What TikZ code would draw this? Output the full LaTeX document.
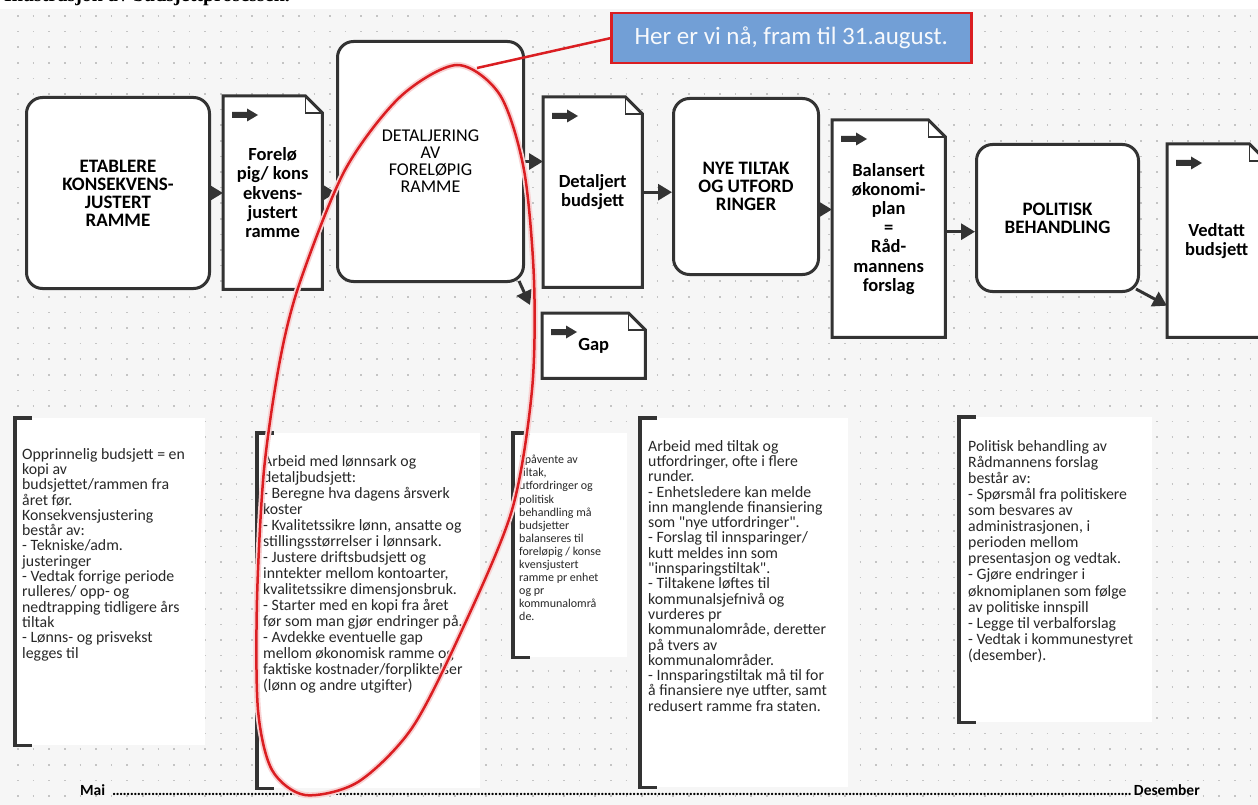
\documentclass[tikz,border=0pt]{standalone}
\usepackage{fontspec}
\setmainfont{Carlito}
\newfontfamily\qfont{Carlito}[Ligatures=TeXOff]
\newfontfamily\titlefont{Liberation Serif}
\usetikzlibrary{arrows.meta,calc}
\pgfdeclarelayer{bg}
\pgfdeclarelayer{shapes}
\pgfsetlayers{bg,shapes,main}
\definecolor{ink}{RGB}{51,51,51}
\definecolor{redl}{RGB}{218,30,34}
\definecolor{callblue}{RGB}{114,159,214}
\definecolor{bgc}{RGB}{246,246,246}
\definecolor{dotc}{RGB}{196,196,196}
\definecolor{txt}{RGB}{40,40,40}
\newcommand\sq{{\qfont"}}
\tikzset{
  procbox/.style={draw=ink, line width=3pt, rounded corners=16pt, fill=white, align=center,
    font=\bfseries\fontsize{19}{18}\selectfont, inner sep=0pt, anchor=north west},
  docbox/.style={align=center, font=\bfseries\fontsize{18.5}{19.2}\selectfont, inner sep=0pt, anchor=north west},
  docline/.style={draw=ink, line width=3pt, fill=white, line join=miter},
  foldline/.style={draw=ink, line width=1.5pt},
  conn/.style={draw=ink, line width=3pt, -{Triangle[length=14pt,width=16pt]}},
  colbox/.style={fill=white, inner sep=0pt, anchor=north west},
  bracket/.style={draw=ink, line width=3.5pt},
  coltext/.style={anchor=north west, inner sep=0pt, align=left, text=txt,
    font=\fontsize{15.8}{15.3}\selectfont},
  redline/.style={draw=redl, line width=2.5pt},
}
\newcommand\docshape[1]{%
  \begin{pgfonlayer}{shapes}
  \draw[docline] (#1.north west) -- ([xshift=-17pt]#1.north east) -- ([yshift=-17pt]#1.north east)
     -- (#1.south east) -- (#1.south west) -- cycle;
  \draw[foldline] ([xshift=-17pt]#1.north east) -- ([xshift=-17pt,yshift=-17pt]#1.north east)
     -- ([yshift=-17pt]#1.north east);
  \fill[ink] ([xshift=9pt,yshift=-16pt]#1.north west) -- ++(15,0) -- ++(0,-3.5) -- ++(11,6.5)
     -- ++(-11,6.5) -- ++(0,-3.5) -- ++(-15,0) -- cycle;
  \end{pgfonlayer}}
\newcommand\colbracket[1]{%
  \draw[bracket] ([xshift=17pt]#1.north west) -- (#1.north west) -- (#1.south west) -- ([xshift=17pt]#1.south west);}
\begin{document}
\begin{tikzpicture}[x=1pt,y=-1pt]
\useasboundingbox (0,0) rectangle (1258,805);
\begin{pgfonlayer}{bg}
  \fill[white] (0,0) rectangle (1258,805);
  \fill[bgc] (0,9) rectangle (1258,805);
  \foreach \r in {0,...,50} {
    \draw[dotc, line width=1.5pt, dash pattern=on 1.5pt off 14.1pt] (17.25,{16+15.6*\r}) -- (1258,{16+15.6*\r});
  }
  \begin{scope}
    \clip (0,0) rectangle (1258,9);
    \node[anchor=base west, inner sep=0pt, font=\titlefont\bfseries\fontsize{20}{24}\selectfont] (title) at (4,2) {Illustrasjon av budsjettprosessen.};
  \end{scope}
\end{pgfonlayer}

% process boxes
\node[procbox, minimum width=183pt, minimum height=191pt] (b1) at (25,96) {ETABLERE\\KONSEKVENS-\\JUSTERT\\RAMME};
\node[procbox, minimum width=186pt, minimum height=240pt, font=\fontsize{18}{17}\selectfont] (b2) at (336,40) {DETALJERING\\AV\\FORELØPIG\\RAMME};
\node[procbox, minimum width=145pt, minimum height=176pt] (b3) at (672,97) {NYE TILTAK\\OG UTFORD\\RINGER};
\node[procbox, minimum width=162pt, minimum height=147pt] (b4) at (975,143) {POLITISK\\BEHANDLING};

% documents
\node[docbox, minimum width=99pt, minimum height=193pt] (d1) at (223,96) {Forelø\\pig/ kons\\ekvens-\\justert\\ramme};
\node[docbox, minimum width=99pt, minimum height=190pt] (d2) at (543,97) {Detaljert\\budsjett};
\node[docbox, minimum width=103pt, minimum height=65pt] (gap) at (542,313) {\raisebox{-7pt}{Gap}};
\node[docbox, minimum width=113pt, minimum height=217pt] (d3) at (832,120) {Balansert\\økonomi-\\plan\\=\\Råd-\\mannens\\forslag};
\node[docbox, minimum width=99pt, minimum height=193pt] (d4) at (1167,144) {Vedtatt\\budsjett};
\docshape{d1}\docshape{d2}\docshape{gap}\docshape{d3}\docshape{d4}

% connectors
\draw[conn] (b1.east) -- (b1.east -| d1.west);
\draw[conn] (d1.east) -- (d1.east -| b2.west);
\draw[conn] (b2.east) -- (b2.east -| d2.west);
\draw[conn] ([xshift=-6pt,yshift=2pt]b2.south east) -- ([xshift=-12pt,yshift=8pt]gap.north west);
\draw[conn] (d2.east) -- (d2.east -| b3.west);
\draw[conn] ([yshift=-23pt]b3.east) -- ([yshift=-23pt]b3.east -| d3.west);
\draw[conn] ([yshift=-3pt]d3.east) -- ([yshift=-3pt]d3.east -| b4.west);
\draw[conn] ([xshift=-4pt,yshift=4pt]b4.south east) -- ([yshift=-65pt]d4.west);

% text columns
\node[colbox, minimum width=190pt, minimum height=327pt] (c1) at (15,418) {};
\node[colbox, minimum width=223pt, minimum height=355pt] (c2) at (257,433) {};
\node[colbox, minimum width=114pt, minimum height=224pt] (c3) at (513,433) {};
\node[colbox, minimum width=208pt, minimum height=369pt] (c4) at (640,418) {};
\node[colbox, minimum width=193pt, minimum height=305pt] (c5) at (959,417) {};
\colbracket{c1}\colbracket{c2}\colbracket{c3}\colbracket{c4}\colbracket{c5}

\node[coltext] (t1) at (22,448) {Opprinnelig budsjett = en\\kopi av\\budsjettet/rammen fra\\året før.\\Konsekvensjustering\\består av:\\- Tekniske/adm.\\justeringer\\- Vedtak forrige periode\\rulleres/ opp- og\\nedtrapping tidligere års\\tiltak\\- Lønns- og prisvekst\\legges til};
\node[coltext, font=\fontsize{15.8}{16}\selectfont] (t2) at (263,455) {Arbeid med lønnsark og\\detaljbudsjett:\\- Beregne hva dagens årsverk\\koster\\- Kvalitetssikre lønn, ansatte og\\stillingsstørrelser i lønnsark.\\- Justere driftsbudsjett og\\inntekter mellom kontoarter,\\kvalitetssikre dimensjonsbruk.\\- Starter med en kopi fra året\\før som man gjør endringer på.\\- Avdekke eventuelle gap\\mellom økonomisk ramme og\\faktiske kostnader/forpliktelser\\(lønn og andre utgifter)};
\node[coltext, font=\fontsize{12}{13.1}\selectfont] (t3) at (519,455) {I påvente av\\tiltak,\\utfordringer og\\politisk\\behandling må\\budsjetter\\balanseres til\\foreløpig / konse\\kvensjustert\\ramme pr enhet\\og pr\\kommunalområ\\de.};
\node[coltext] (t4) at (648,440) {Arbeid med tiltak og\\utfordringer, ofte i flere\\runder.\\- Enhetsledere kan melde\\inn manglende finansiering\\som \sq nye utfordringer\sq.\\- Forslag til innsparinger/\\kutt meldes inn som\\\sq innsparingstiltak\sq.\\- Tiltakene løftes til\\kommunalsjefnivå og\\vurderes pr\\kommunalområde, deretter\\på tvers av\\kommunalområder.\\- Innsparingstiltak må til for\\å finansiere nye utfter, samt\\redusert ramme fra staten.};
\node[coltext, font=\fontsize{15.8}{16.1}\selectfont] (t5) at (968,440) {Politisk behandling av\\Rådmannens forslag\\består av:\\- Spørsmål fra politiskere\\som besvares av\\administrasjonen, i\\perioden mellom\\presentasjon og vedtak.\\- Gjøre endringer i\\øknomiplanen som følge\\av politiske innspill\\- Legge til verbalforslag\\- Vedtak i kommunestyret\\(desember).};

% timeline
\node[anchor=base west, inner sep=0pt, text width=1120pt, font=\bfseries\fontsize{15.5}{18}\selectfont] (tl) at (80,795) {Mai \leaders\hbox{.\kern-0.6pt}\hfill Desember};

% red ellipse and callout
\coordinate (etop) at (477,68);
\draw[draw=redl!20, line width=6pt] plot[smooth cycle] coordinates {(457,65) (500,95) (524,170) (534,280) (532,390) (512,510) (462,630) (412,728) (358,782) (305,795) (272,770) (258,710) (257,600) (264,470) (280,360) (300,282) (345,170) (400,97)};
\draw[redline] plot[smooth cycle] coordinates {(457,65) (500,95) (524,170) (534,280) (532,390) (512,510) (462,630) (412,728) (358,782) (305,795) (272,770) (258,710) (257,600) (264,470) (280,360) (300,282) (345,170) (400,97)};
\node[anchor=north west, minimum width=360pt, minimum height=50pt, fill=callblue, draw=redl, line width=2.5pt, inner sep=0pt, text=white!94!callblue, font=\fontsize{25}{28}\selectfont] (call) at (610,12) {Her er vi nå, fram til 31.august.};
\draw[redline] (call.west) -- (etop);
\end{tikzpicture}
\end{document}
